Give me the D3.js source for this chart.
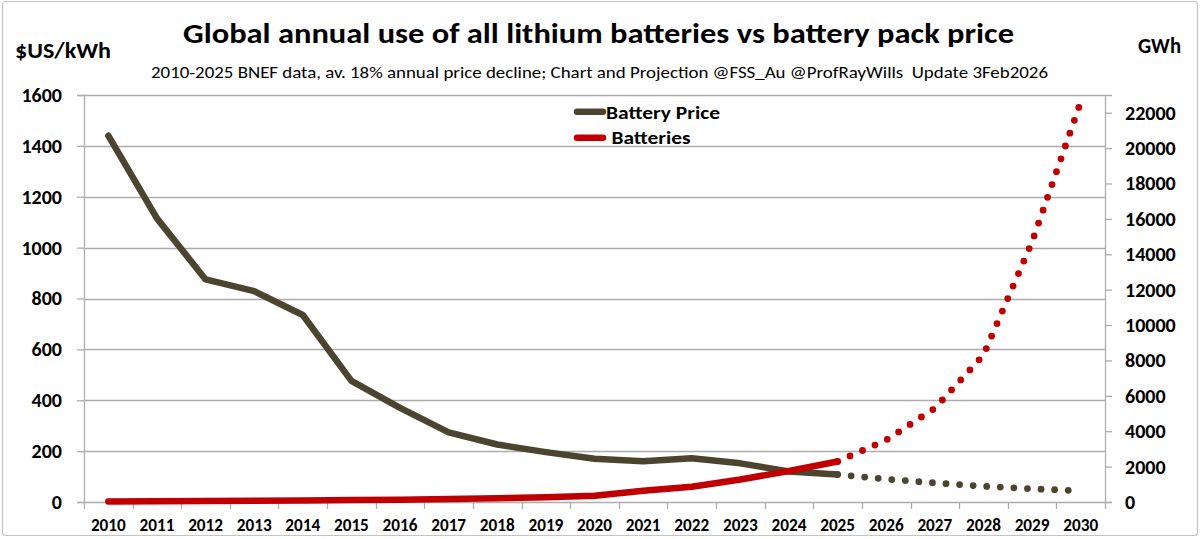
<!DOCTYPE html>
<html>
<head>
<meta charset="utf-8">
<script src="https://cdn.jsdelivr.net/npm/d3@7"></script>
<style>
  html, body { margin: 0; padding: 0; background: #fff; }
  svg { display: block; }
  text { font-family: Calibri, Carlito, Lato, "Open Sans", sans-serif; fill: #000; }
</style>
</head>
<body>
<svg id="chart" width="1200" height="539"></svg>
<script>
// ---- data ----
const years = ["2010","2011","2012","2013","2014","2015","2016","2017","2018","2019","2020",
               "2021","2022","2023","2024","2025","2026","2027","2028","2029","2030"];
const actualYears = ["2010","2011","2012","2013","2014","2015","2016","2017","2018","2019","2020",
                     "2021","2022","2023","2024","2025"];
const projYears = ["2025","2026","2027","2028","2029","2030"];
// Battery pack price ($US/kWh), left axis
const priceActual = [1440, 1115, 875, 829, 735, 476, 370, 274, 226, 196, 170, 160, 172, 152, 120, 108];
const priceProj = [108, 90, 75, 62, 52, 44];
// Annual lithium battery use (GWh), right axis
const battActual = [30, 40, 50, 65, 85, 110, 130, 170, 210, 265, 350, 640, 860, 1270, 1750, 2290];
const battProj = [2290, 3500, 5300, 8300, 14700, 22600];
// tick labels
const leftTicks = [0, 200, 400, 600, 800, 1000, 1200, 1400, 1600];
const rightTicks = [0, 2000, 4000, 6000, 8000, 10000, 12000, 14000, 16000, 18000, 20000, 22000];
const seriesNames = ["Battery Price", "Batteries"];

// ---- layout ----
const plot = { left: 84, right: 1105, top: 95, bottom: 502 };
const priceColor = "#4b4530";
const battColor = "#c00000";
const gridColor = "#adadad";

const svg = d3.select("#chart");

// outer border
svg.append("rect").attr("x", 2.5).attr("y", 1.5).attr("width", 1195).attr("height", 534)
  .attr("rx", 3).attr("fill", "#fff").attr("stroke", "#c4c4c4").attr("stroke-width", 1.2);

const x = d3.scaleBand().domain(years).range([plot.left, plot.right]).padding(0);
const cx = d => x(d) + x.bandwidth() / 2;
const yL = d3.scaleLinear().domain([0, 1600]).range([plot.bottom, plot.top]);
const yR = d3.scaleLinear().domain([0, 23000]).range([plot.bottom, plot.top]);

// gridlines
svg.append("g").selectAll("line").data(leftTicks.filter(d => d > 0)).join("line")
  .attr("x1", plot.left).attr("x2", plot.right)
  .attr("y1", d => Math.round(yL(d)) + 0.5).attr("y2", d => Math.round(yL(d)) + 0.5)
  .attr("stroke", gridColor).attr("stroke-width", 1.3);

const labelFont = "Calibri, Carlito, Lato, sans-serif";

// left axis
const gL = svg.append("g").attr("transform", `translate(${plot.left},0)`)
  .call(d3.axisLeft(yL).tickValues(leftTicks).tickSize(7).tickPadding(15).tickFormat(d3.format("d")));
gL.select(".domain").attr("stroke", gridColor).attr("stroke-width", 1.3);
gL.selectAll(".tick line").attr("stroke", gridColor).attr("stroke-width", 1.3);
gL.selectAll("text").attr("font-size", 20).attr("font-weight", "bold")
  .style("font-family", labelFont).attr("fill", "#000");

// right axis
const gR = svg.append("g").attr("transform", `translate(${plot.right},0)`)
  .call(d3.axisRight(yR).tickValues(rightTicks).tickSize(7).tickPadding(13).tickFormat(d3.format("d")));
gR.select(".domain").attr("stroke", gridColor).attr("stroke-width", 1.3);
gR.selectAll(".tick line").attr("stroke", gridColor).attr("stroke-width", 1.3);
gR.selectAll("text").attr("font-size", 20).attr("font-weight", "bold")
  .style("font-family", labelFont).attr("fill", "#000");

// bottom axis (labels at band centres, ticks at band boundaries)
const gB = svg.append("g").attr("transform", `translate(0,${plot.bottom})`)
  .call(d3.axisBottom(x).tickSize(0).tickPadding(17));
gB.select(".domain").attr("stroke", gridColor).attr("stroke-width", 1.3);
gB.selectAll("text").attr("font-size", 17.2).attr("font-weight", "bold")
  .style("font-family", labelFont).attr("fill", "#000");
const boundaries = years.map(d => x(d)).concat([x(years[years.length - 1]) + x.bandwidth()]);
gB.append("g").selectAll("line").data(boundaries).join("line")
  .attr("x1", d => Math.round(d) + 0.5).attr("x2", d => Math.round(d) + 0.5)
  .attr("y1", 0).attr("y2", 7).attr("stroke", gridColor).attr("stroke-width", 1.3);

// lines
const lineL = d3.line().x(d => cx(d[0])).y(d => yL(d[1]));
const lineR = d3.line().x(d => cx(d[0])).y(d => yR(d[1]));
const zip = (a, b) => a.map((k, i) => [k, b[i]]);

// Battery price
svg.append("path").datum(zip(actualYears, priceActual)).attr("d", lineL)
  .attr("fill", "none").attr("stroke", priceColor).attr("stroke-width", 6.5)
  .attr("stroke-linejoin", "round").attr("stroke-linecap", "round");
svg.append("path").datum(zip(projYears, priceProj)).attr("d", lineL)
  .attr("fill", "none").attr("stroke", priceColor).attr("stroke-width", 6.8)
  .attr("stroke-linecap", "round").attr("stroke-dasharray", "0 13.6").attr("stroke-dashoffset", -13.6);

// Batteries
svg.append("path").datum(zip(actualYears, battActual)).attr("d", lineR)
  .attr("fill", "none").attr("stroke", battColor).attr("stroke-width", 6.5)
  .attr("stroke-linejoin", "round").attr("stroke-linecap", "round");
svg.append("path").datum(zip(projYears, battProj)).attr("d", lineR)
  .attr("fill", "none").attr("stroke", battColor).attr("stroke-width", 6.8)
  .attr("stroke-linecap", "round").attr("stroke-dasharray", "0 13.6").attr("stroke-dashoffset", -13.6);

// legend
const legend = svg.append("g");
const legItems = [
  { name: seriesNames[0], color: priceColor, ly: 111.7, tx: 606, ty: 118.5, len: 114 },
  { name: seriesNames[1], color: battColor, ly: 137.7, tx: 611.5, ty: 143.5, len: 79 }
];
legItems.forEach(it => {
  legend.append("line").attr("x1", 577).attr("x2", 603).attr("y1", it.ly).attr("y2", it.ly)
    .attr("stroke", it.color).attr("stroke-width", 6.5).attr("stroke-linecap", "round");
  legend.append("text").attr("x", it.tx).attr("y", it.ty).text(it.name)
    .attr("font-size", 18.5).attr("font-weight", "bold")
    .attr("textLength", it.len).attr("lengthAdjust", "spacingAndGlyphs");
});

// titles
svg.append("text").attr("x", 183).attr("y", 42.5)
  .text("Global annual use of all lithium batteries vs battery pack price")
  .attr("font-size", 28.5).attr("font-weight", "bold")
  .attr("textLength", 831).attr("lengthAdjust", "spacingAndGlyphs");
svg.append("text").attr("x", 151).attr("y", 77.5)
  .text("2010-2025 BNEF data, av. 18% annual price decline; Chart and Projection @FSS_Au @ProfRayWills\u00a0\u00a0Update 3Feb2026")
  .attr("font-size", 17)
  .attr("textLength", 897).attr("lengthAdjust", "spacingAndGlyphs");
svg.append("text").attr("x", 15).attr("y", 57.5).text("$US/kWh")
  .attr("font-size", 21.5).attr("font-weight", "bold")
  .attr("textLength", 96).attr("lengthAdjust", "spacingAndGlyphs");
svg.append("text").attr("x", 1138).attr("y", 53).text("GWh")
  .attr("font-size", 21.5).attr("font-weight", "bold")
  .attr("textLength", 43).attr("lengthAdjust", "spacingAndGlyphs");
</script>
</body>
</html>
